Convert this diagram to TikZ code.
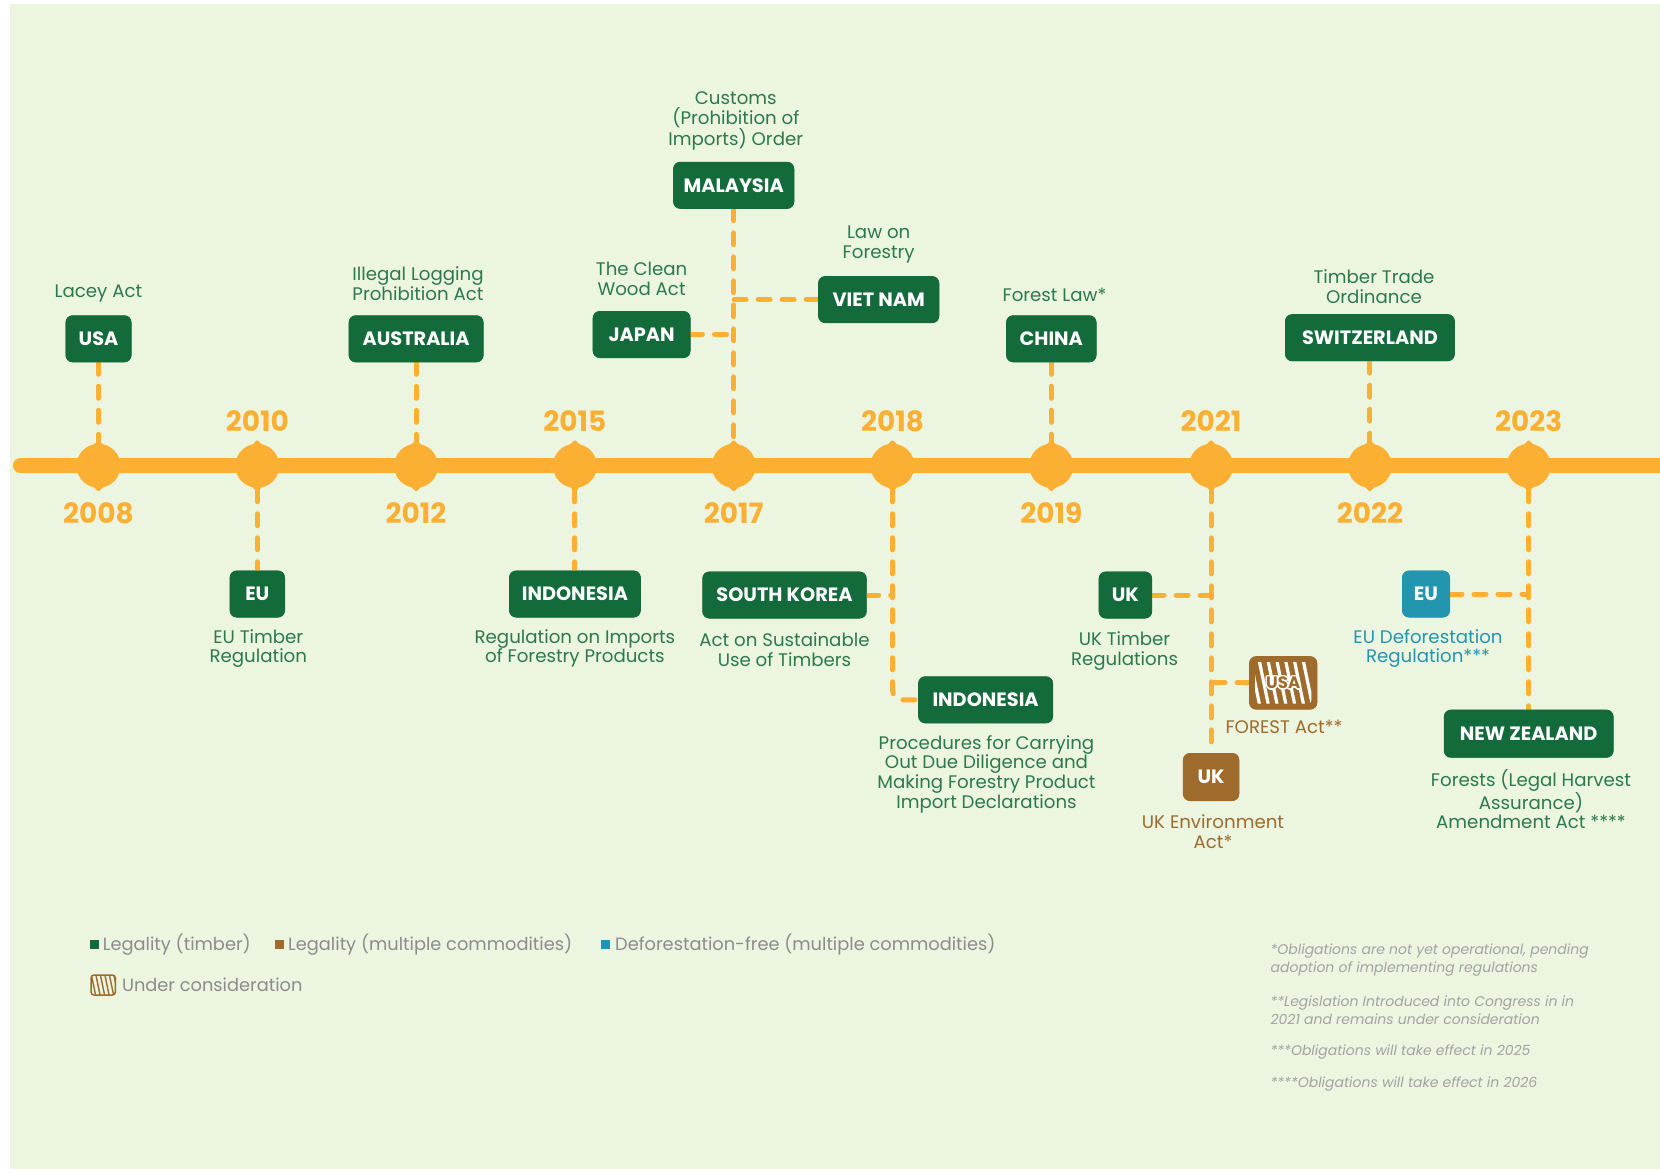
\documentclass[tikz,border=0pt]{standalone}
\usepackage{fontspec}
\setmainfont{Poppins}
\usetikzlibrary{calc}
\definecolor{bgc}{HTML}{EBF5DF}
\definecolor{orng}{HTML}{FBB034}
\definecolor{dgreen}{HTML}{136A3A}
\definecolor{tgreen}{HTML}{2C7A4B}
\definecolor{brwn}{HTML}{9E6B2C}
\definecolor{tealc}{HTML}{2495AF}
\definecolor{greyt}{HTML}{8C8C8C}
\definecolor{greyf}{HTML}{A3A3A3}
\tikzset{
  cbox/.style={rectangle, rounded corners=7pt, fill=dgreen, text=white,
    font=\fontsize{19.3}{19.3}\selectfont\bfseries, minimum height=46.6pt, inner sep=0pt, align=center},
  lbl/.style={text=tgreen, align=center, font=\fontsize{18.2}{19.6}\selectfont, inner sep=0pt},
  yrlbl/.style={text=orng, font=\fontsize{28}{28}\selectfont\bfseries, inner sep=0pt},
  dline/.style={draw=orng, line width=5pt, dash pattern=on 12pt off 12pt, line cap=round},
  legtxt/.style={text=greyt, anchor=west, font=\fontsize{17.8}{19}\selectfont, inner sep=0pt},
  foot/.style={text=greyf, anchor=west, align=left, font=\fontsize{14}{18}\selectfont\itshape, inner sep=0pt},
}
\begin{document}
\begin{tikzpicture}[x=1pt,y=-1pt]
\useasboundingbox (0,0) rectangle (1660,1171);
\fill[white] (0,0) rectangle (1660,1171);
\fill[bgc] (10,4) rectangle (1660,1169);

% year coordinates
\coordinate (c2008) at (98.5,465.8);
\coordinate (c2010) at (257.3,465.8);
\coordinate (c2012) at (416.1,465.8);
\coordinate (c2015) at (574.9,465.8);
\coordinate (c2017) at (733.7,465.8);
\coordinate (c2018) at (892.5,465.8);
\coordinate (c2019) at (1051.3,465.8);
\coordinate (c2021) at (1211.1,465.8);
\coordinate (c2022) at (1369.9,465.8);
\coordinate (c2023) at (1528.7,465.8);

% top boxes
\node[cbox, minimum width=65.6pt] (usa) at (98.5,338.8) {USA};
\node[cbox, minimum width=134.5pt] (aus) at (416.1,338.8) {AUSTRALIA};
\node[cbox, minimum width=97.4pt] (jpn) at (641.6,334.5) {JAPAN};
\node[cbox, minimum width=120.7pt] (mal) at (733.7,185.3) {MALAYSIA};
\node[cbox, minimum width=120.7pt] (vnm) at (878.7,299.6) {VIET NAM};
\node[cbox, minimum width=90pt] (chn) at (1051.3,338.8) {CHINA};
\node[cbox, minimum width=169.4pt] (swi) at (1369.9,337.7) {SWITZERLAND};

% bottom boxes
\node[cbox, minimum width=55pt] (eu1) at (257.3,594) {EU};
\node[cbox, minimum width=131.3pt] (ind1) at (574.9,594) {INDONESIA};
\node[cbox, minimum width=164pt] (sk) at (784.5,595) {SOUTH KOREA};
\node[cbox, minimum width=134.5pt] (ind2) at (985.6,699.8) {INDONESIA};
\node[cbox, minimum width=53pt] (ukg) at (1125.4,595) {UK};
\node[cbox, fill=brwn, minimum width=67.8pt, minimum height=53pt] (usah) at (1283.2,682.9) {};
\node[cbox, fill=brwn, minimum width=56pt, minimum height=47.6pt] (ukb) at (1211.1,777) {UK};
\node[cbox, fill=tealc, minimum width=47.6pt] (eut) at (1426,594) {EU};
\node[cbox, minimum width=169.4pt, minimum height=47.6pt] (nz) at (1528.7,733.7) {NEW ZEALAND};

% dashed connectors
\draw[dline] (usa.south) -- (c2008);
\draw[dline] (aus.south) -- (c2012);
\draw[dline] (mal.south) -- (c2017);
\draw[dline] (jpn.east) -- (jpn.east -| c2017);
\draw[dline] (vnm.west) -- (vnm.west -| c2017);
\draw[dline] (chn.south) -- (c2019);
\draw[dline] (swi.south) -- (c2022);
\draw[dline] (c2010) -- (eu1.north);
\draw[dline] (c2015) -- (ind1.north);
\draw[dline, rounded corners=10pt] (c2018) |- (ind2.west);
\draw[dline] (sk.east) -- (sk.east -| c2018);
\draw[dline] (c2021) -- (ukb.north);
\draw[dline] (ukg.east) -- (ukg.east -| c2021);
\draw[dline] (usah.west) -- (usah.west -| c2021);
\draw[dline] (c2023) -- (nz.north);
\draw[dline] (eut.east) -- (eut.east -| c2023);

% redraw boxes over connector ends
\foreach \n in {usa,aus,jpn,mal,vnm,chn,swi,eu1,ind1,sk,ind2,ukg,nz}{
  \fill[dgreen, rounded corners=7pt] (\n.south west) rectangle (\n.north east);
}
\fill[brwn, rounded corners=7pt] (usah.south west) rectangle (usah.north east);
\fill[brwn, rounded corners=7pt] (ukb.south west) rectangle (ukb.north east);
\fill[tealc, rounded corners=7pt] (eut.south west) rectangle (eut.north east);
\node[cbox, fill=none] (usat) at (usa.center) {USA};
\node[cbox, fill=none] (aust) at (aus.center) {AUSTRALIA};
\node[cbox, fill=none] (jpnt) at (jpn.center) {JAPAN};
\node[cbox, fill=none] (malt) at (mal.center) {MALAYSIA};
\node[cbox, fill=none] (vnmt) at (vnm.center) {VIET NAM};
\node[cbox, fill=none] (chnt) at (chn.center) {CHINA};
\node[cbox, fill=none] (swit) at (swi.center) {SWITZERLAND};
\node[cbox, fill=none] (eu1t) at (eu1.center) {EU};
\node[cbox, fill=none] (ind1t) at (ind1.center) {INDONESIA};
\node[cbox, fill=none] (skt) at (sk.center) {SOUTH KOREA};
\node[cbox, fill=none] (ind2t) at (ind2.center) {INDONESIA};
\node[cbox, fill=none] (ukgt) at (ukg.center) {UK};
\node[cbox, fill=none] (ukbt) at (ukb.center) {UK};
\node[cbox, fill=none] (eutt) at (eut.center) {EU};
\node[cbox, fill=none] (nzt) at (nz.center) {NEW ZEALAND};

% hatched USA box
\begin{scope}
\clip[rounded corners=3pt] ($(usah.north west)+(6,6)$) rectangle ($(usah.south east)+(-6,-6)$);
\foreach \k in {-3,...,9}{
  \draw[white, line width=3.2pt] ($(usah.north west)+(\k*8.8,-2)$) -- ++(12,58);
}
\end{scope}
\foreach \dx/\dy in {-1.6/0,1.6/0,0/-1.6,0/1.6,-1.2/-1.2,1.2/1.2,-1.2/1.2,1.2/-1.2}{
  \node[text=white, font=\fontsize{16.5}{16.5}\selectfont\bfseries, inner sep=0pt] at ($(usah.center)+(\dx,\dy)$) {USA};
}
\node[text=brwn, font=\fontsize{16.5}{16.5}\selectfont\bfseries, inner sep=0pt] (usaht) at (usah.center) {USA};

% timeline
\draw[orng, line width=15pt, line cap=round] (20.5,465.8) -- (1675,465.8);
\foreach \c in {c2008,c2010,c2012,c2015,c2017,c2018,c2019,c2021,c2022,c2023}{
  \fill[orng] (\c) circle (22pt);
  \fill[orng, rounded corners=1pt] ($(\c)+(0,-26)$) -- ($(\c)+(6,-20)$) -- ($(\c)+(-6,-20)$) -- cycle;
  \fill[orng, rounded corners=1pt] ($(\c)+(0,26)$) -- ($(\c)+(6,20)$) -- ($(\c)+(-6,20)$) -- cycle;
}

% year labels
\node[yrlbl] (y2008) at (98.5,513.5) {2008};
\node[yrlbl] (y2010) at (257.3,421.4) {2010};
\node[yrlbl] (y2012) at (416.1,513.5) {2012};
\node[yrlbl] (y2015) at (574.9,421.4) {2015};
\node[yrlbl] (y2017) at (733.7,513.5) {2017};
\node[yrlbl] (y2018) at (892.5,421.4) {2018};
\node[yrlbl] (y2019) at (1051.3,513.5) {2019};
\node[yrlbl] (y2021) at (1211.1,421.4) {2021};
\node[yrlbl] (y2022) at (1369.9,513.5) {2022};
\node[yrlbl] (y2023) at (1528.7,421.4) {2023};

% labels
\node[lbl] (lusa) at (98.5,293) {Lacey Act};
\node[lbl] (laus) at (418,283.5) {Illegal Logging\\Prohibition Act};
\node[lbl] (ljpn) at (641.6,279) {The Clean\\Wood Act};
\node[lbl] (lmal) at (735.8,121) {Customs\\(Prohibition of\\Imports) Order};
\node[lbl] (lvnm) at (878.7,244.5) {Law on\\Forestry};
\node[lbl] (lchn) at (1054.5,295) {Forest Law*};
\node[lbl] (lswi) at (1374,286.5) {Timber Trade\\Ordinance};
\node[lbl] (leu1) at (258.3,648.5) {EU Timber\\Regulation};
\node[lbl] (lind1) at (574.9,648.5) {Regulation on Imports\\of Forestry Products};
\node[lbl] (lsk) at (784.5,649.5) {Act on Sustainable\\Use of Timbers};
\node[lbl] (lind2) at (986.5,774) {Procedures for Carrying\\Out Due Diligence and\\Making Forestry Product\\Import Declarations};
\node[lbl] (lukg) at (1124.5,651) {UK Timber\\Regulations};
\node[lbl, text=brwn] (lusah) at (1284,727) {FOREST Act**};
\node[lbl, text=brwn] (lukb) at (1213,831.5) {UK Environment\\Act*};
\node[lbl, text=tealc] (leut) at (1428,648.5) {EU Deforestation\\Regulation***};
\node[lbl] (lnz) at (1531,799) {Forests (Legal Harvest\\Assurance)\\Amendment Act ****};

% legend
\fill[dgreen] (90,940) rectangle (98.5,949);
\node[legtxt] (lg1) at (102.7,944.5) {Legality (timber)};
\fill[brwn] (275,940) rectangle (283.5,949);
\node[legtxt] (lg2) at (288,944.5) {Legality (multiple commodities)};
\fill[tealc] (601,940) rectangle (609.5,949);
\node[legtxt] (lg3) at (615,944.5) {Deforestation-free (multiple commodities)};
\begin{scope}
\clip[rounded corners=3pt] (91,975) rectangle (115.4,995);
\foreach \k in {-2,...,5}{
  \draw[brwn, line width=1.4pt] (91+\k*4.5,973) -- ++(5,24);
}
\end{scope}
\draw[brwn, line width=1.5pt, rounded corners=3pt] (91,975) rectangle (115.4,995);
\node[legtxt] (lg4) at (121.8,984.6) {Under consideration};

% footnotes
\node[foot] (f1) at (1270.4,959.7) {*Obligations are not yet operational, pending\\adoption of implementing regulations};
\node[foot] (f2) at (1270.4,1010.5) {**Legislation Introduced into Congress in in\\2021 and remains under consideration};
\node[foot] (f3) at (1270.4,1052.3) {***Obligations will take effect in 2025};
\node[foot] (f4) at (1270.4,1084.1) {****Obligations will take effect in 2026};
\end{tikzpicture}
\end{document}
